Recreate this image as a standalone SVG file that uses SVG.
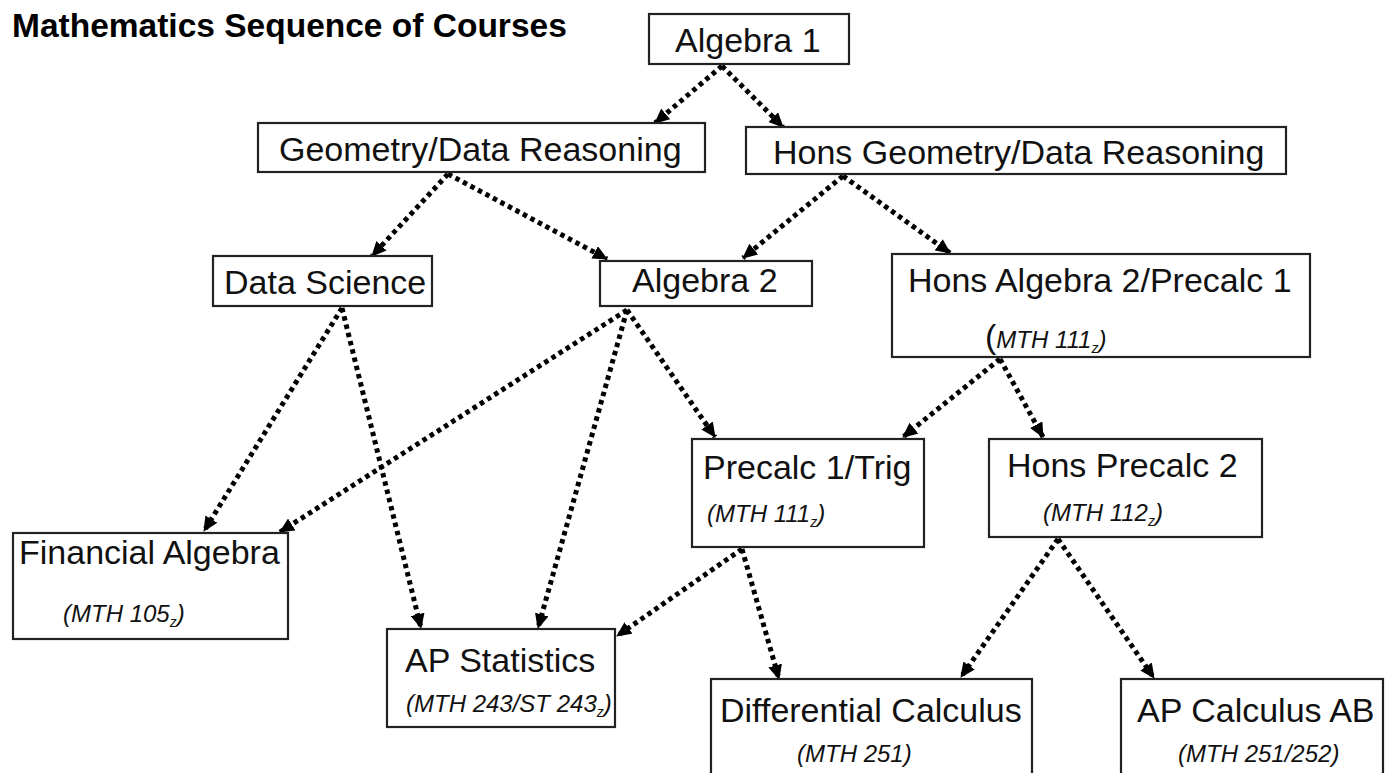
<svg xmlns="http://www.w3.org/2000/svg" width="1385" height="773" viewBox="0 0 1385 773">
<style>
.box{fill:#fff;stroke:#222;stroke-width:2.2}
.t{font-family:"Liberation Sans",Arial,sans-serif;font-size:34px;fill:#111}
.c{font-family:"Liberation Sans",Arial,sans-serif;font-size:24px;font-style:italic;fill:#111}
.s{font-size:14px}
.title{font-family:"Liberation Sans",Arial,sans-serif;font-size:33.5px;font-weight:bold;fill:#000}
.edge{fill:none;stroke:#000;stroke-width:5;stroke-dasharray:4.5 4}
</style>
<defs>
<marker id="ah" markerUnits="userSpaceOnUse" markerWidth="16" markerHeight="14" refX="14" refY="7" orient="auto">
<path d="M0,0 L15,7 L0,14 Z" fill="#000"/>
</marker>
</defs>
<rect width="1385" height="773" fill="#fff"/>
<text class="title" x="12" y="37">Mathematics Sequence of Courses</text>

<g id="edges">
<line class="edge" x1="722" y1="66" x2="655" y2="123" marker-end="url(#ah)"/>
<line class="edge" x1="722" y1="66" x2="783" y2="127" marker-end="url(#ah)"/>
<line class="edge" x1="448" y1="174" x2="372" y2="256" marker-end="url(#ah)"/>
<line class="edge" x1="448" y1="174" x2="607" y2="259" marker-end="url(#ah)"/>
<line class="edge" x1="843" y1="176" x2="743" y2="258" marker-end="url(#ah)"/>
<line class="edge" x1="843" y1="176" x2="950" y2="253" marker-end="url(#ah)"/>
<line class="edge" x1="342" y1="308" x2="204" y2="531" marker-end="url(#ah)"/>
<line class="edge" x1="342" y1="308" x2="421" y2="628" marker-end="url(#ah)"/>
<line class="edge" x1="627" y1="310" x2="280" y2="532" marker-end="url(#ah)"/>
<line class="edge" x1="627" y1="310" x2="538" y2="628" marker-end="url(#ah)"/>
<line class="edge" x1="627" y1="310" x2="715" y2="437" marker-end="url(#ah)"/>
<line class="edge" x1="1000" y1="359" x2="903" y2="437" marker-end="url(#ah)"/>
<line class="edge" x1="1000" y1="359" x2="1043" y2="437" marker-end="url(#ah)"/>
<line class="edge" x1="742" y1="549" x2="617" y2="636" marker-end="url(#ah)"/>
<line class="edge" x1="742" y1="549" x2="779" y2="679" marker-end="url(#ah)"/>
<line class="edge" x1="1058" y1="539" x2="961" y2="677" marker-end="url(#ah)"/>
<line class="edge" x1="1058" y1="539" x2="1154" y2="678" marker-end="url(#ah)"/>
</g>

<g id="algebra1">
<rect class="box" x="649" y="14" width="200" height="50"/>
<text class="t" x="675" y="52">Algebra 1</text>
</g>
<g id="geometry">
<rect class="box" x="258" y="123" width="447" height="49"/>
<text class="t" x="279" y="161">Geometry/Data Reasoning</text>
</g>
<g id="hons-geometry">
<rect class="box" x="746" y="127" width="540" height="47"/>
<text class="t" x="773" y="164">Hons Geometry/Data Reasoning</text>
</g>
<g id="data-science">
<rect class="box" x="213" y="256" width="219" height="50"/>
<text class="t" x="224" y="294">Data Science</text>
</g>
<g id="algebra2">
<rect class="box" x="600" y="261" width="212" height="45"/>
<text class="t" x="632" y="292">Algebra 2</text>
</g>
<g id="hons-algebra2">
<rect class="box" x="892" y="254" width="418" height="103"/>
<text class="t" x="908" y="292">Hons Algebra 2/Precalc 1</text>
<text x="985" y="348"><tspan class="t">(</tspan><tspan class="c">MTH 111</tspan><tspan class="c s" dy="5">z</tspan><tspan class="c" dy="-5">)</tspan></text>
</g>
<g id="precalc1">
<rect class="box" x="692" y="439" width="232" height="108"/>
<text class="t" x="703" y="479">Precalc 1/Trig</text>
<text class="c" x="707" y="522">(MTH 111<tspan class="s" dy="5">z</tspan><tspan dy="-5">)</tspan></text>
</g>
<g id="hons-precalc2">
<rect class="box" x="989" y="439" width="273" height="98"/>
<text class="t" x="1007" y="477">Hons Precalc 2</text>
<text class="c" x="1043" y="521">(MTH 112<tspan class="s" dy="5">z</tspan><tspan dy="-5">)</tspan></text>
</g>
<g id="financial-algebra">
<rect class="box" x="13" y="533" width="275" height="106"/>
<text class="t" x="19" y="564">Financial Algebra</text>
<text class="c" x="63" y="622">(MTH 105<tspan class="s" dy="5">z</tspan><tspan dy="-5">)</tspan></text>
</g>
<g id="ap-statistics">
<rect class="box" x="387" y="629" width="228" height="98"/>
<text class="t" x="405" y="672">AP Statistics</text>
<text class="c" x="406" y="712">(MTH 243/ST 243<tspan class="s" dy="5">z</tspan><tspan dy="-5">)</tspan></text>
</g>
<g id="differential-calculus">
<rect class="box" x="711" y="679" width="321" height="110"/>
<text class="t" x="720" y="722">Differential Calculus</text>
<text class="c" x="797" y="762">(MTH 251)</text>
</g>
<g id="ap-calculus-ab">
<rect class="box" x="1121" y="679" width="262" height="110"/>
<text class="t" x="1137" y="722">AP Calculus AB</text>
<text class="c" x="1178" y="762">(MTH 251/252)</text>
</g>
</svg>
